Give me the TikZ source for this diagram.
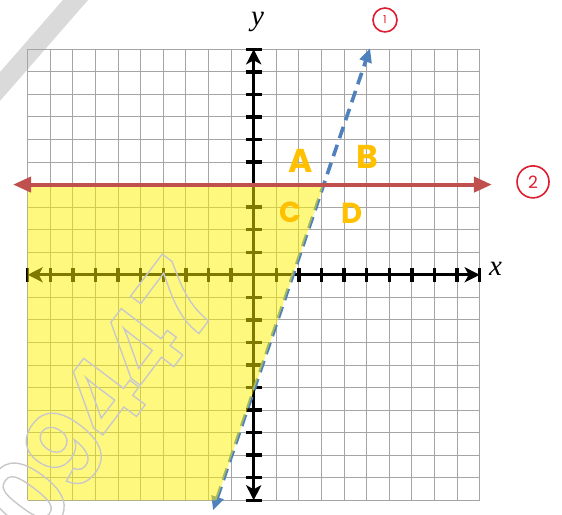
\documentclass[tikz,border=0pt]{standalone}
\usepackage{fontspec}
\newfontfamily\handfont{Poppins}
\newfontfamily\wmfont{Liberation Sans}
\newfontfamily\axisfont{Liberation Serif}
\usetikzlibrary{arrows.meta}
\definecolor{gridgray}{RGB}{165,165,165}
\definecolor{redline}{RGB}{192,80,77}
\definecolor{blueline}{RGB}{79,129,189}
\definecolor{orangelab}{RGB}{255,192,0}
\definecolor{markred}{RGB}{222,28,48}
\definecolor{wmgray}{RGB}{200,200,200}
\definecolor{bandgray}{RGB}{218,218,218}
\tikzset{
  gridline/.style={draw=gridgray, line width=0.9pt},
  axisline/.style={draw=black, line width=3.4pt,
    {Stealth[length=15pt,width=15pt,inset=4pt]}-{Stealth[length=15pt,width=15pt,inset=4pt]}},
  tickmark/.style={draw=black, line width=3.4pt},
  redarrow/.style={draw=redline, line width=4pt,
    {Triangle[length=18pt,width=15pt]}-{Triangle[length=18pt,width=15pt]}},
  bluearrow/.style={draw=blueline, line width=3.6pt, dash pattern=on 12pt off 7pt,
    {Triangle[length=14pt,width=12pt]}-{Triangle[length=14pt,width=12pt]}},
  region/.style={fill=yellow, fill opacity=0.5},
  ptlabel/.style={text=orangelab, inner sep=0pt},
  bigpt/.style={ptlabel, font=\handfont\bfseries\fontsize{33}{33}\selectfont},
  smallpt/.style={ptlabel, font=\handfont\bfseries\fontsize{29}{29}\selectfont},
  axislabel/.style={font=\axisfont\itshape\fontsize{29}{29}\selectfont, inner sep=0pt},
  circlemark/.style={circle, draw=markred, line width=1.6pt, text=markred, inner sep=0pt},
}
\begin{document}
\begin{tikzpicture}[x=22.6pt,y=22.55pt]
\useasboundingbox (-11.226,-10.652) rectangle (13.642,12.186);
% watermark band
\coordinate (band1) at (-12.226,7.202);
\coordinate (band2) at (-6.885,13.334);
\draw[draw=bandgray, line width=19pt] (band1) -- (band2);
% grid
\foreach \k in {-10,...,10} {
  \draw[gridline] (\k,-10) -- (\k,10);
  \draw[gridline] (-10,\k) -- (10,\k);
}
% axes
\coordinate (xl) at (-10,0);
\coordinate (xr) at (10,0);
\coordinate (yb) at (0,-10);
\coordinate (yt) at (0,10);
\draw[axisline] (xl) -- (xr);
\draw[axisline] (yb) -- (yt);
\foreach \i in {-10,...,-1,1,2,...,10} {
  \draw[tickmark] (\i,-0.32) -- (\i,0.32);
}
\foreach \j in {-10,...,-1,1,2,...,10} {
  \draw[tickmark] (-0.36,\j) -- (0.36,\j);
}
% boundary line 1 (dashed)
\coordinate (b1) at (-1.8,-10.45);
\coordinate (b2) at (5.15,10.05);
\draw[bluearrow] (b1) -- (b2);
% shaded region
\coordinate (r1) at (-10,4);
\coordinate (r2) at (3.099,4);
\coordinate (r3) at (-1.647,-10);
\coordinate (r4) at (-10,-10);
\fill[region] (r1) -- (r2) -- (r3) -- (r4) -- cycle;
% boundary line 2
\coordinate (h1) at (-10.65,4);
\coordinate (h2) at (10.54,4);
\draw[redarrow] (h1) -- (h2);
% watermark text
\node[rotate=53, anchor=center, inner sep=0pt, text=wmgray,
      font=\wmfont\bfseries\fontsize{112}{112}\selectfont] (wm) at (-6.7,-5.45)
  {\special{pdf:literal direct 1 Tr 1.4 w}09447\special{pdf:literal direct 0 Tr}};
% labels
\node[axislabel] (ylab) at (0.168,11.21) {y};
\node[axislabel] (xlab) at (10.70,0.257) {x};
\node[bigpt] (A) at (2.09,5.05) {A};
\node[bigpt] (B) at (5.01,5.22) {B};
\node[smallpt] (C) at (1.65,2.78) {C};
\node[smallpt] (D) at (4.35,2.74) {D};
\node[circlemark, minimum size=24pt, font=\handfont\fontsize{11}{11}\selectfont] (c1) at (5.81,11.30) {1};
\node[circlemark, minimum size=32pt, font=\handfont\fontsize{17}{17}\selectfont] (c2) at (12.36,4.12) {2};
\end{tikzpicture}
\end{document}
